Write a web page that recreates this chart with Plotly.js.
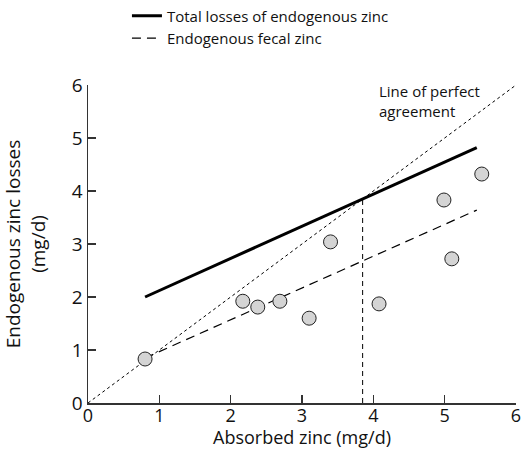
<!DOCTYPE html>
<html>
<head>
<meta charset="utf-8">
<script src="https://cdn.plot.ly/plotly-3.0.1.min.js"></script>
<style>html,body{margin:0;padding:0;background:#fff;}#chart{width:521px;height:449px;}</style>
</head>
<body>
<div id="chart"></div>
<script>
// Observed data points (absorbed zinc vs endogenous fecal zinc)
const absorbedZinc = [0.80, 2.17, 2.38, 2.69, 3.10, 3.40, 4.08, 4.99, 5.10, 5.52];
const fecalZinc    = [0.83, 1.92, 1.81, 1.92, 1.60, 3.04, 1.87, 3.83, 2.72, 4.32];

// Regression line: total losses of endogenous zinc
const totalX = [0.80, 5.45];
const totalY = [2.00, 4.82];

// Regression line: endogenous fecal zinc
const fecalLineX = [0.80, 5.45];
const fecalLineY = [0.85, 3.64];

// Line of perfect agreement
const perfectX = [0, 6];
const perfectY = [0, 6];

// Vertical marker where total losses equal absorption
const crossX = [3.85, 3.85];
const crossY = [0, 3.85];

const xTicks = [0, 1, 2, 3, 4, 5, 6];
const yTicks = [0, 1, 2, 3, 4, 5, 6];

const traces = [
  {x: totalX, y: totalY, mode: 'lines', name: 'Total losses of endogenous zinc',
   line: {color: '#000', width: 3}},
  {x: fecalLineX, y: fecalLineY, mode: 'lines', name: 'Endogenous fecal zinc',
   line: {color: '#000', width: 1.2, dash: '9px,6px'}},
  {x: perfectX, y: perfectY, mode: 'lines', showlegend: false,
   line: {color: '#000', width: 1, dash: '3px,3px'}},
  {x: crossX, y: crossY, mode: 'lines', showlegend: false,
   line: {color: '#000', width: 1, dash: '5px,4px'}},
  {x: absorbedZinc, y: fecalZinc, mode: 'markers', showlegend: false,
   marker: {size: 14, color: '#d4d4d4', line: {color: '#222', width: 1}}}
];

const fontFam = '"Open Sans", "Noto Sans", sans-serif';
const layout = {
  width: 521, height: 449,
  margin: {l: 88, r: 5, t: 85, b: 46, autoexpand: false},
  paper_bgcolor: '#fff', plot_bgcolor: '#fff',
  font: {family: fontFam, color: '#111', size: 16},
  showlegend: true,
  legend: {x: 0.091, y: 1.269, xanchor: 'left', yanchor: 'top',
           font: {size: 15, family: fontFam, color: '#111'},
           bgcolor: 'rgba(0,0,0,0)', tracegroupgap: 0},
  xaxis: {range: [0, 6], tickvals: xTicks, ticktext: xTicks.map(String),
          showgrid: false, zeroline: false, showline: true, linecolor: '#333', linewidth: 1.5,
          ticks: 'inside', ticklen: 8, tickcolor: '#333', tickwidth: 1.2,
          tickfont: {size: 18}, ticklabelstandoff: -4, ticklabeloverflow: 'allow',
          automargin: false, fixedrange: true,
          title: {text: 'Absorbed zinc (mg/d)', font: {size: 18}, standoff: 2}},
  yaxis: {range: [0, 6], tickvals: yTicks, ticktext: yTicks.map(String),
          showgrid: false, zeroline: false, showline: true, linecolor: '#333', linewidth: 1.5,
          ticks: 'inside', ticklen: 8, tickcolor: '#333', tickwidth: 1.2,
          tickfont: {size: 19}, automargin: false, fixedrange: true,
          title: {text: 'Endogenous zinc losses<br>(mg/d)', font: {size: 19}, standoff: 21}},
  annotations: [
    {x: 4.05, y: 1.02, xref: 'x', yref: 'paper', xanchor: 'left', yanchor: 'top',
     align: 'left', showarrow: false, text: 'Line of perfect<br>agreement',
     font: {size: 15, family: fontFam, color: '#111'}}
  ]
};

Plotly.newPlot('chart', traces, layout, {displayModeBar: false, staticPlot: true});
</script>
</body>
</html>
